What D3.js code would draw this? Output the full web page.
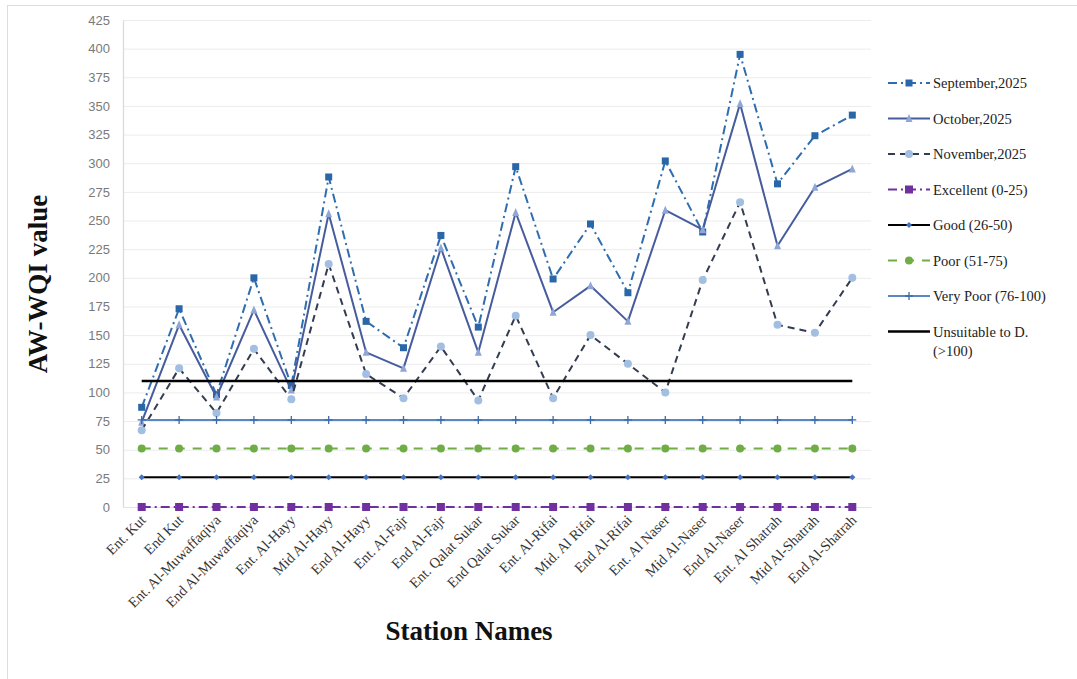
<!DOCTYPE html>
<html>
<head>
<meta charset="utf-8">
<script src="https://cdn.jsdelivr.net/npm/d3@7/dist/d3.min.js"></script>
<style>
  html, body { margin: 0; padding: 0; background: #fff; }
  svg { display: block; }
</style>
</head>
<body>
<svg id="chart" width="1077" height="679"></svg>
<script>
// ---------- DATA ----------
const stations = [
  "Ent. Kut", "End Kut", "Ent. Al-Muwaffaqiya", "End Al-Muwaffaqiya", "Ent. Al-Hayy",
  "Mid Al-Hayy", "End Al-Hayy", "Ent. Al-Fajr", "End Al-Fajr", "Ent. Qalat Sukar",
  "End Qalat Sukar", "Ent. Al-Rifai", "Mid. Al Rifai", "End Al-Rifai", "Ent. Al Naser",
  "Mid Al-Naser", "End Al-Naser", "Ent. Al Shatrah", "Mid Al-Shatrah", "End Al-Shatrah"
];
const september = [87, 173, 98, 200, 106, 288, 162, 139, 237, 157, 297, 199, 247, 187, 302, 240, 395, 282, 324, 342];
const october   = [74, 159, 96, 172, 102, 256, 135, 121, 226, 135, 257, 170, 193, 162, 259, 242, 352, 228, 279, 295];
const november  = [67, 121, 82, 138, 94, 212, 116, 95, 140, 93, 167, 95, 150, 125, 100, 198, 266, 159, 152, 200];
const seriesNames = ["September,2025", "October,2025", "November,2025"];
const classNames = ["Excellent (0-25)", "Good (26-50)", "Poor (51-75)", "Very Poor (76-100)", "Unsuitable to D. (>100)"];
const classValues = [0, 26, 51, 76, 110];
const yTicks = [0, 25, 50, 75, 100, 125, 150, 175, 200, 225, 250, 275, 300, 325, 350, 375, 400, 425];

// ---------- STYLES ----------
const styles = [
  { color: "#2e6db0", width: 2, dash: "9,4,2,4", marker: "square", mfill: "#2a67a8", msize: 7 },
  { color: "#465c9c", width: 2, dash: null, marker: "triangle", mfill: "#8fa6d6", msize: 7 },
  { color: "#333c50", width: 2, dash: "7,5", marker: "circle", mfill: "#a2bfe2", msize: 8 },
  { color: "#7030a0", width: 2, dash: "9,4,2,4", marker: "square", mfill: "#7030a0", msize: 8 },
  { color: "#000000", width: 2, dash: null, marker: "diamond", mfill: "#4472c4", msize: 6 },
  { color: "#70ad47", width: 2, dash: "9,8", marker: "circle", mfill: "#70ad47", msize: 8 },
  { color: "#5b88c2", width: 2, dash: null, marker: "plus", mfill: "#3d6aa8", msize: 8 },
  { color: "#000000", width: 2.5, dash: null, marker: null, mfill: null, msize: 0 }
];

const allSeries = [september, october, november]
  .map((vals, i) => ({ name: seriesNames[i], values: vals }))
  .concat(classValues.map((v, i) => ({ name: classNames[i], values: stations.map(() => v) })));

// ---------- LAYOUT ----------
const svg = d3.select("#chart");
svg.append("rect").attr("width", 1077).attr("height", 679).attr("fill", "#fff");
// faint frame (top and left)
svg.append("line").attr("x1", 7).attr("x2", 1077).attr("y1", 5.5).attr("y2", 5.5).attr("stroke", "#dcdcdc");
svg.append("line").attr("x1", 7.5).attr("x2", 7.5).attr("y1", 5).attr("y2", 679).attr("stroke", "#dcdcdc");

const plot = { left: 123, right: 871, top: 20, bottom: 507 };
const x = d3.scaleBand().domain(stations).range([plot.left, plot.right]).padding(0);
const xc = s => x(s) + x.bandwidth() / 2;
const y = d3.scaleLinear().domain([0, 425]).range([plot.bottom, plot.top]);

// gridlines
svg.append("g").selectAll("line").data(yTicks).join("line")
  .attr("x1", plot.left).attr("x2", plot.right)
  .attr("y1", d => y(d) + 0.5).attr("y2", d => y(d) + 0.5)
  .attr("stroke", "#ececec").attr("stroke-width", 1);

// y axis
const yAxis = d3.axisLeft(y).tickValues(yTicks).tickSize(0).tickPadding(13);
const gy = svg.append("g").attr("transform", `translate(${plot.left},0)`).call(yAxis);
gy.select(".domain").attr("stroke", "#d9d9d9").attr("stroke-width", 1.2);
gy.selectAll("text").attr("font-family", "'Liberation Sans', Arial, sans-serif")
  .attr("font-size", 13).attr("fill", "#7a7a7a");

// x axis labels
const xAxis = d3.axisBottom(x).tickSize(0).tickPadding(0);
const gx = svg.append("g").attr("transform", `translate(0,${plot.bottom})`).call(xAxis);
gx.select(".domain").attr("stroke", "#e4e4e4");
gx.selectAll(".tick text")
  .attr("font-family", "'Liberation Serif', 'Times New Roman', serif")
  .attr("font-size", 14.5).attr("fill", "#333")
  .attr("text-anchor", "end")
  .attr("dy", null).attr("y", 0)
  .attr("transform", "translate(5,14) rotate(-45)");

// marker drawing
function drawMarker(g, type, size, fill) {
  const h = size / 2;
  if (type === "square") {
    g.append("rect").attr("x", -h).attr("y", -h).attr("width", size).attr("height", size).attr("fill", fill);
  } else if (type === "circle") {
    g.append("circle").attr("r", h).attr("fill", fill);
  } else if (type === "triangle") {
    g.append("path").attr("d", `M0,${-h - 1}L${h},${h}L${-h},${h}Z`).attr("fill", fill);
  } else if (type === "diamond") {
    g.append("path").attr("d", `M0,${-h}L${h},0L0,${h}L${-h},0Z`).attr("fill", fill);
  } else if (type === "plus") {
    g.append("path").attr("d", `M${-h},0H${h}M0,${-h}V${h}`).attr("stroke", fill).attr("stroke-width", 1.3);
  }
}

const line = d3.line().x((d, i) => xc(stations[i])).y(d => y(d));

allSeries.forEach((s, si) => {
  const st = styles[si];
  const g = svg.append("g");
  g.append("path").datum(s.values).attr("d", line)
    .attr("fill", "none").attr("stroke", st.color).attr("stroke-width", st.width)
    .attr("stroke-dasharray", st.dash).attr("stroke-linejoin", "round");
  if (st.marker) {
    s.values.forEach((v, i) => {
      const mg = g.append("g").attr("transform", `translate(${xc(stations[i])},${y(v)})`);
      drawMarker(mg, st.marker, st.msize, st.mfill);
    });
  }
});

// axis titles
svg.append("text").attr("transform", "translate(47,284) rotate(-90)")
  .attr("text-anchor", "middle")
  .attr("font-family", "'Liberation Serif', 'Times New Roman', serif")
  .attr("font-weight", "bold").attr("font-size", 27).attr("fill", "#111")
  .text("AW-WQI value");
svg.append("text").attr("x", 469).attr("y", 640)
  .attr("text-anchor", "middle")
  .attr("font-family", "'Liberation Serif', 'Times New Roman', serif")
  .attr("font-weight", "bold").attr("font-size", 27).attr("fill", "#111")
  .text("Station Names");

// legend
const legend = svg.append("g");
const legendY = [83, 118.5, 154, 189.5, 225, 260.5, 296, 331.5];
allSeries.forEach((s, si) => {
  const st = styles[si];
  const g = legend.append("g").attr("transform", `translate(0,${legendY[si]})`);
  g.append("line").attr("x1", 888).attr("x2", 930).attr("y1", 0).attr("y2", 0)
    .attr("stroke", st.color).attr("stroke-width", st.width).attr("stroke-dasharray", st.dash);
  if (st.marker) {
    const mg = g.append("g").attr("transform", "translate(909,0)");
    drawMarker(mg, st.marker, st.msize, st.mfill);
  }
  const t = g.append("text").attr("x", 933).attr("y", 5)
    .attr("font-family", "'Liberation Serif', 'Times New Roman', serif")
    .attr("font-size", 14.5).attr("fill", "#222");
  if (s.name.indexOf("Unsuitable") === 0) {
    t.append("tspan").attr("x", 933).text("Unsuitable to D.");
    t.append("tspan").attr("x", 933).attr("dy", 19).text("(>100)");
  } else {
    t.text(s.name);
  }
});
</script>
</body>
</html>
